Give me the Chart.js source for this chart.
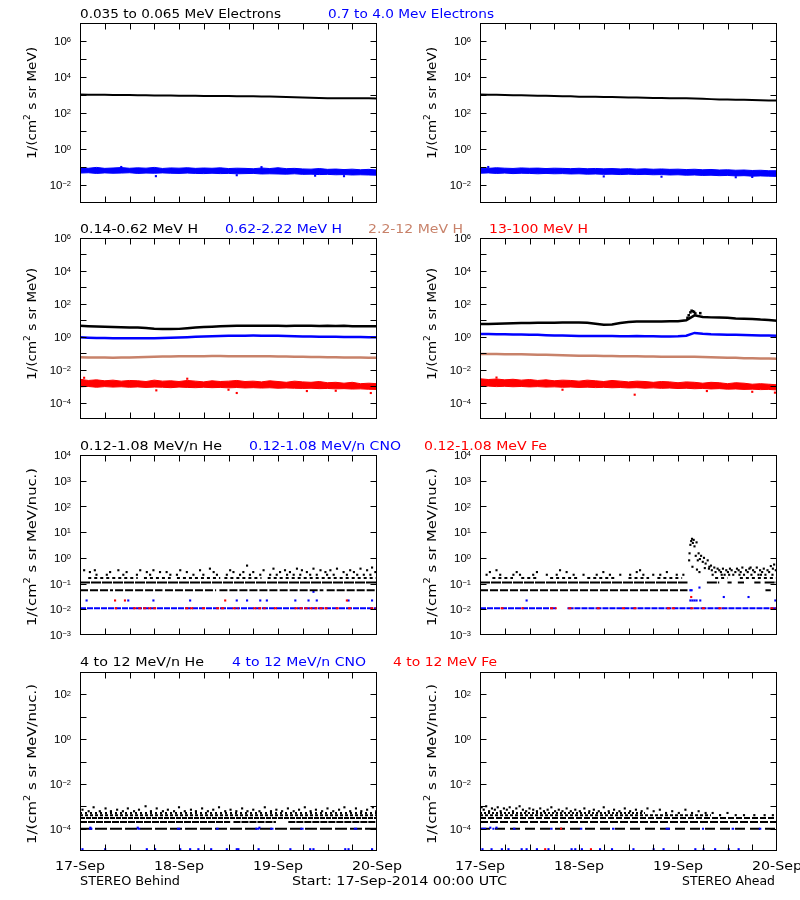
<!DOCTYPE html>
<html><head><meta charset="utf-8">
<script src="https://cdn.jsdelivr.net/npm/chart.js@4.4.0/dist/chart.umd.min.js"></script>
<style>
html,body{margin:0;padding:0;background:#fff;}
#wrap{position:relative;width:800px;height:900px;overflow:hidden;background:#fff;}
#wrap canvas{position:absolute;}
</style></head>
<body><div id="wrap"></div>
<script>
// ---------------- DATA ----------------
const hours2 = [0,2,4,6,8,10,12,14,16,18,20,22,24,26,28,30,32,34,36,38,40,42,44,46,48,50,52,54,56,58,60,62,64,66,68,70,72];
const xTickHours = [0,24,48,72];
const xTickLabels = ['17-Sep','18-Sep','19-Sep','20-Sep'];
const yLabelsRow1 = [-2,0,2,4,6];
const yLabelsRow2 = [-4,-2,0,2,4,6];
const yLabelsRow3 = [-3,-2,-1,0,1,2,3,4];
const yLabelsRow4 = [-4,-2,0,2];

// Row 1: electrons
const eLowB = [1050,1040,1030,1020,1010,1000,990,980,960,950,940,930,910,905,900,890,885,880,870,860,850,840,830,815,800,780,760,730,700,680,660,650,650,655,650,650,645];
const eLowA = [1050,1040,1020,1000,980,960,940,920,900,880,860,840,810,800,790,780,770,750,730,715,700,690,680,670,660,650,630,610,590,570,560,550,540,520,510,500,500];
const eHighB_hi = [0.09,0.085,0.095,0.084,0.088,0.093,0.085,0.09,0.086,0.095,0.083,0.089,0.086,0.091,0.084,0.088,0.085,0.09,0.082,0.086,0.084,0.08,0.088,0.082,0.091,0.081,0.084,0.078,0.076,0.082,0.074,0.077,0.072,0.076,0.07,0.074,0.068];
const eHighB_lo = [0.046,0.048,0.044,0.047,0.045,0.046,0.048,0.044,0.046,0.045,0.047,0.045,0.044,0.046,0.044,0.043,0.045,0.043,0.044,0.042,0.043,0.044,0.041,0.042,0.041,0.04,0.042,0.039,0.04,0.038,0.039,0.037,0.038,0.036,0.037,0.036,0.035];
const eHighB_out = [[18.4,0.031],[38,0.035],[57,0.033],[64,0.031],[10,0.1],[44,0.098]];
const eHighA_hi = [0.088,0.084,0.091,0.086,0.083,0.089,0.085,0.087,0.082,0.086,0.084,0.081,0.085,0.08,0.083,0.079,0.082,0.078,0.081,0.076,0.079,0.075,0.078,0.074,0.076,0.072,0.075,0.07,0.073,0.068,0.07,0.066,0.068,0.064,0.066,0.062,0.062];
const eHighA_lo = [0.045,0.047,0.044,0.046,0.043,0.045,0.044,0.042,0.044,0.042,0.043,0.041,0.042,0.04,0.041,0.039,0.04,0.038,0.04,0.038,0.039,0.037,0.038,0.036,0.037,0.035,0.036,0.034,0.035,0.033,0.034,0.032,0.033,0.031,0.032,0.031,0.03];
const eHighA_out = [[30,0.03],[44,0.029],[62,0.027],[66,0.028],[2,0.1]];

// Row 2: protons
const h1B = [4.6,4.4,4.2,4.0,3.9,3.8,3.7,3.6,3.4,3.1,2.9,2.9,3.0,3.3,3.6,3.9,4.1,4.3,4.5,4.6,4.7,4.6,4.7,4.6,4.6,4.5,4.6,4.7,4.6,4.5,4.6,4.5,4.6,4.4,4.4,4.3,4.3];
const h2B = [0.92,0.88,0.85,0.83,0.82,0.81,0.8,0.8,0.81,0.82,0.84,0.87,0.9,0.94,0.98,1.02,1.06,1.1,1.13,1.15,1.16,1.17,1.16,1.15,1.13,1.1,1.07,1.05,1.03,1.01,1.0,0.98,0.97,0.96,0.95,0.94,0.94];
const h3B = [0.056,0.055,0.054,0.054,0.053,0.054,0.055,0.056,0.058,0.06,0.062,0.063,0.064,0.065,0.066,0.066,0.067,0.067,0.066,0.066,0.066,0.065,0.065,0.064,0.063,0.062,0.061,0.06,0.059,0.058,0.057,0.056,0.055,0.055,0.054,0.053,0.053];
const h4B_hi = [0.0026,0.0022,0.0024,0.0021,0.0023,0.002,0.0022,0.0021,0.0019,0.0023,0.002,0.0021,0.0019,0.0022,0.002,0.0018,0.0021,0.0019,0.002,0.0022,0.0019,0.002,0.0018,0.0021,0.0019,0.0017,0.002,0.0018,0.0017,0.0019,0.0016,0.0017,0.0015,0.0017,0.0014,0.0015,0.0014];
const h4B_lo = [0.0009,0.00095,0.00085,0.00093,0.00087,0.00091,0.00085,0.00089,0.00083,0.00087,0.00085,0.0008,0.00087,0.00083,0.0008,0.00085,0.0008,0.00083,0.00078,0.00082,0.00077,0.0008,0.00076,0.00079,0.00074,0.00077,0.00074,0.00072,0.00074,0.0007,0.00072,0.00068,0.0007,0.00066,0.00068,0.00064,0.00062];
const h4B_out = [[18.5,0.00055],[36,0.0006],[38,0.00038],[55,0.0005],[62,0.00052],[70.5,0.00038],[1,0.0032],[26,0.0028]];
const h1A = [5.9,6.0,6.2,6.4,6.6,6.8,6.9,7.0,7.1,7.1,7.2,7.3,7.4,7.0,6.2,5.3,5.6,6.8,7.8,8.3,8.4,8.5,8.4,8.6,8.8,10,20,16,15,14.5,14,13,12.5,12,11,10.5,9.4];
const h1A_peak = [[50.3,14],[50.6,20],[51.0,30],[51.3,38],[51.6,35],[51.9,32],[52.2,26],[53.4,27]];
const h2A = [1.45,1.45,1.42,1.4,1.38,1.36,1.34,1.3,1.25,1.2,1.17,1.14,1.12,1.1,1.1,1.1,1.1,1.08,1.08,1.1,1.08,1.06,1.05,1.05,1.08,1.15,1.7,1.5,1.4,1.35,1.32,1.3,1.28,1.25,1.2,1.18,1.15];
const h3A = [0.09,0.089,0.088,0.087,0.086,0.085,0.083,0.081,0.079,0.077,0.075,0.073,0.071,0.07,0.069,0.068,0.067,0.066,0.065,0.064,0.063,0.062,0.061,0.06,0.06,0.06,0.061,0.059,0.057,0.055,0.053,0.052,0.05,0.049,0.048,0.047,0.046];
const h4A_hi = [0.0028,0.0025,0.0027,0.0024,0.0026,0.0023,0.0025,0.0022,0.0024,0.0021,0.0023,0.0022,0.002,0.0023,0.0021,0.0019,0.0022,0.002,0.0018,0.002,0.0019,0.0017,0.0019,0.0018,0.0016,0.0018,0.0017,0.0015,0.0017,0.0016,0.0014,0.0016,0.0015,0.0013,0.0014,0.0013,0.0012];
const h4A_lo = [0.00095,0.001,0.00093,0.00097,0.00091,0.00095,0.00089,0.00093,0.00087,0.0009,0.00085,0.00088,0.00083,0.00086,0.00081,0.00084,0.00079,0.00082,0.00077,0.0008,0.00075,0.00078,0.00073,0.00076,0.00071,0.00074,0.00069,0.00072,0.00067,0.0007,0.00065,0.00067,0.00063,0.00065,0.00061,0.00063,0.00058];
const h4A_out = [[20,0.0006],[37.5,0.0003],[55,0.0005],[66,0.00045],[71.5,0.0004],[4,0.0033]];

// Row 3: 0.12-1.08 MeV/n (count levels: [start,end] hour segments)
const heB_lvl1 = [[0,8],[8.5,20],[20.6,33],[33.8,48],[48.4,59],[59.8,72]];     // 0.055
const heB_lvl2 = [[0,72]];                                                       // 0.11
const heB_lvl3 = [[2,14],[15.5,22],[23.5,34],[35,44],[45.5,72]];                // 0.165
const heB_dots = [[1,0.33],[2.4,0.28],[3.6,0.33],[7.3,0.28],[9.3,0.33],[11.3,0.28],[14.6,0.33],[16.2,0.28],[17.8,0.33],[19.4,0.28],[21.0,0.28],[24.3,0.33],[25.9,0.28],[29.1,0.33],[31.5,0.38],[32.4,0.28],[36.4,0.33],[37.2,0.28],[39.6,0.28],[40.5,0.5],[42.0,0.28],[44.5,0.33],[46.9,0.38],[48.5,0.28],[49.7,0.33],[50.9,0.28],[52.6,0.38],[53.8,0.33],[55.0,0.28],[56.6,0.38],[58.3,0.33],[59.5,0.28],[60.7,0.33],[62.3,0.38],[63.9,0.28],[65.5,0.33],[66.4,0.28],[68.0,0.38],[69.6,0.33],[70.8,0.42],[71.6,0.28],
  [4.0,0.22],[6.5,0.22],[10.5,0.22],[13.8,0.22],[17.0,0.22],[21.9,0.22],[23.5,0.22],[27.5,0.22],[29.9,0.22],[33.2,0.22],[35.6,0.22],[38.8,0.22],[41.2,0.22],[43.7,0.22],[46.1,0.22],[47.7,0.22],[50.2,0.22],[51.8,0.22],[53.4,0.22],[55.8,0.22],[57.4,0.22],[59.9,0.22],[61.5,0.22],[64.7,0.22],[67.2,0.22],[68.8,0.22],[70.4,0.22]];
const cnoB_lvl = [[0,72]];                                                       // 0.011
const feB_lvl = [[8.4,9.0],[12.9,18.6],[25.5,27.5],[29.6,30.5],[33,35],[37,38.5],[42,45],[47,48],[52,60.5],[62,63],[65,65.8],[70.4,72]];
const cnoB_dots = [[1.6,0.022],[11.7,0.022],[17.8,0.022],[26.7,0.022],[38,0.022],[40.5,0.022],[43.7,0.022],[45.3,0.022],[52.2,0.022],[55.4,0.022],[57.4,0.022],[65.1,0.022],[70.8,0.022],[56.6,0.048]];
const feB_dots = [[8.5,0.022],[10.9,0.022],[35.2,0.022],[64.7,0.022]];

const heA_lvl1 = [[0,50.3],[69.2,70.5]];
const heA_lvl2 = [[0,50.3],[55,58],[60,61],[62.5,64],[66.5,68],[69,72]];
const heA_lvl3 = [[3,8],[10,14],[17,24],[26,33],[36,41],[43,49],[57,60],[63,72]];
const heA_dotsPre = [[1.6,0.22],[2.4,0.28],[4.9,0.22],[8.1,0.22],[8.9,0.28],[9.7,0.22],[12.9,0.22],[13.8,0.28],[16.2,0.22],[18.6,0.22],[21.0,0.28],[22.7,0.22],[25.1,0.22],[28.3,0.22],[29.9,0.28],[31.5,0.22],[34.0,0.22],[36.4,0.22],[38.0,0.28],[39.6,0.22],[42.0,0.22],[43.7,0.22],[45.3,0.28],[47.7,0.22],[49.3,0.22],[4.0,0.33],[19.4,0.33],[38.8,0.33]];
const heA_dotsEvent = [[50.7,0.8],[50.8,1.5],[51.0,3.2],[51.2,4.5],[51.4,5.5],[51.5,0.45],[51.6,3.8],[51.8,5.0],[52.0,2.8],[52.3,1.2],[52.5,4.0],[52.6,0.35],[52.8,0.8],[53.0,1.5],[53.2,0.28],[53.3,0.9],[53.6,1.2],[54.0,0.7],[54.3,1.0],[54.5,0.4],[54.7,0.6],[55.2,0.8],[55.6,0.45],[56.0,0.5]];
const heA_dotsPost = [[55.5,0.38],[56.2,0.33],[56.4,0.22],[56.8,0.42],[57.1,0.28],[57.6,0.38],[58.0,0.33],[58.4,0.28],[58.6,0.22],[58.9,0.38],[59.3,0.22],[59.7,0.33],[60.1,0.28],[60.4,0.22],[60.6,0.38],[61.0,0.33],[61.4,0.22],[61.9,0.28],[62.3,0.38],[62.7,0.33],[62.9,0.22],[63.2,0.28],[63.6,0.42],[64.0,0.22],[64.5,0.33],[64.9,0.28],[65.3,0.38],[65.6,0.42],[65.8,0.22],[66.2,0.33],[66.6,0.28],[67.1,0.42],[67.5,0.22],[67.9,0.33],[68.1,0.22],[68.4,0.28],[68.8,0.38],[69.2,0.22],[69.7,0.33],[70.1,0.28],[70.5,0.48],[70.9,0.22],[71.0,0.38],[71.3,0.55],[71.7,0.33]];
const cnoA_lvl = [[0,18.6],[21.2,72]];
const feA_lvl = [[5,5.7],[10,10.6],[17,18.6],[21.4,22.7],[28.3,29.1],[34.4,35.6],[37.2,38.2],[45.3,47.7],[51,51.8],[53.8,54.6],[57.8,59.1],[70.4,72]];
const cnoA_dots = [[11.3,0.022],[51.0,0.022],[51.5,0.022],[52.0,0.022],[52.5,0.022],[53.4,0.022],[59.1,0.03],[65.1,0.03],[71.6,0.022],[51.0,0.055],[51.3,0.055],[53.2,0.07]];
const feA_dots = [[51.2,0.03]];

// Row 4: 4-12 MeV/n
const he4B_l1 = [[0,72]];                              // 1e-4
const he4B_l2 = [[0,36.4],[37.2,47.5],[50.5,72]];      // 2e-4
const he4B_l3 = [[0,72]];                              // 3e-4
const he4B_l4 = [[0,72]];                              // 4e-4
const he4B_l5 = [[0,72]];                              // 5e-4
const he4B_dots = [[0.6,7e-4],[2.1,6e-4],[3.3,9e-4],[4.8,6e-4],[6.2,8e-4],[7.5,6e-4],[9.0,7e-4],[10.4,6e-4],[11.6,8e-4],[13.1,6e-4],[14.3,7e-4],[15.9,1e-3],[17.2,6e-4],[18.6,8e-4],[20.1,6e-4],[21.3,7e-4],[22.8,6e-4],[24.0,9e-4],[25.4,6e-4],[26.9,7e-4],[28.1,6e-4],[29.6,8e-4],[31.0,6e-4],[32.3,7e-4],[33.7,9e-4],[35.2,6e-4],[36.5,7e-4],[37.9,6e-4],[39.3,8e-4],[40.6,6e-4],[42.0,7e-4],[43.5,6e-4],[44.8,9e-4],[46.3,6e-4],[47.6,7e-4],[49.0,6e-4],[50.4,8e-4],[51.8,6e-4],[53.1,7e-4],[54.5,9e-4],[55.9,6e-4],[57.2,7e-4],[58.7,6e-4],[60.0,8e-4],[61.4,6e-4],[62.8,7e-4],[64.1,9e-4],[65.5,6e-4],[66.9,8e-4],[68.2,6e-4],[69.6,7e-4],[71.0,9e-4],[71.8,6e-4]];
const cno4B_lvl = [[2.2,3.0],[13.9,14.6],[23.5,24.3],[33,33.6],[42.5,43.5],[46.1,46.9],[53.4,54.2],[66.4,67.2]];
const cno4B_dots = [[0.6,1.2e-5],[6.1,1.2e-5],[16.2,1.2e-5],[18.2,1.2e-5],[24.3,1.2e-5],[26.7,1.2e-5],[28.7,1.2e-5],[31.8,1.2e-5],[35.6,1.2e-5],[38.0,1.2e-5],[38.4,1.2e-5],[43.3,1.2e-5],[51.0,1.2e-5],[55.8,1.2e-5],[56.6,1.2e-5],[64.3,1.2e-5],[65.1,1.2e-5],[70.8,1.2e-5],[14.0,1.1e-4],[43.5,1.1e-4],[2.5,1.1e-4]];

const he4A_l1 = [[0,72]];
const he4A_l2 = [[0,72]];
const he4A_l3 = [[0,72]];
const he4A_l4 = [[0,56]];
const he4A_l5 = [[0,40]];
const he4A_dots = [[0.4,9e-4],[0.9,7e-4],[1.5,1e-3],[2.2,6e-4],[2.9,8e-4],[3.6,7e-4],[4.3,9e-4],[5.0,6e-4],[5.8,8e-4],[6.5,7e-4],[7.2,9e-4],[8.0,6e-4],[8.8,8e-4],[9.6,1e-3],[10.4,7e-4],[11.2,6e-4],[12.0,8e-4],[12.9,7e-4],[13.8,6e-4],[14.6,8e-4],[15.5,6e-4],[16.4,7e-4],[17.3,9e-4],[18.2,6e-4],[19.1,7e-4],[20.0,6e-4],[21.0,8e-4],[22.0,6e-4],[23.1,7e-4],[24.2,6e-4],[25.3,8e-4],[26.5,6e-4],[27.6,7e-4],[28.8,6e-4],[30.0,9e-4],[31.2,6e-4],[32.5,7e-4],[33.8,6e-4],[35.1,8e-4],[36.4,6e-4],[37.8,7e-4],[39.2,6e-4],[40.6,8e-4],[42.1,6e-4],[43.6,7e-4],[45.1,5e-4],[46.6,6e-4],[48.2,5e-4],[49.8,7e-4],[51.4,5e-4],[53.0,6e-4],[54.7,5e-4],[56.4,5e-4],[58.2,4e-4],[60.0,5e-4],[62.0,4e-4],[64.0,4e-4],[66.5,4e-4],[69.0,4e-4],[71.0,4e-4]];
const cno4A_lvl = [[0.3,1.5],[3,3.5],[8,8.6],[17,17.6],[24.2,24.8],[32,32.6],[45,46],[53.8,54.3],[61,61.6],[67.6,68.2]];
const fe4A_lvl = [[19.4,19.9]];
const cno4A_dots = [[0.6,1.2e-5],[2.8,1.2e-5],[5.3,1.2e-5],[6.9,1.2e-5],[10.1,1.2e-5],[11.3,1.2e-5],[13.8,1.2e-5],[16.6,1.2e-5],[22.2,1.2e-5],[23.1,1.2e-5],[24.7,1.2e-5],[29.1,1.2e-5],[32.0,1.2e-5],[37.2,1.2e-5],[42.1,1.2e-5],[44.5,1.2e-5],[52.2,1.2e-5],[54.2,1.2e-5],[57.0,1.2e-5],[60.3,1.2e-5],[62.7,1.2e-5],[2.5,1.1e-4],[4.0,1.1e-4]];
const fe4A_dots = [[15.8,1.2e-5],[26.9,1.2e-5]];

// ---------------- STYLE / LAYOUT ----------------
const BLK='#000000', BLU='#0000ff', RED='#ff0000', SIE='#c8826a';
const FONT='"DejaVu Sans", sans-serif';
const TICKFONT='"Liberation Sans", Arial, sans-serif';

function lineDs(ys, color, w){ return {data: hours2.map((x,i)=>({x, y:ys[i]})), borderColor:color, borderWidth:w, pointRadius:0, fill:false}; }
function bandDs(lo, hi, color){ return [
  {data: hours2.map((x,i)=>({x, y:lo[i]})), borderColor:color, borderWidth:1, pointRadius:0, fill:false},
  {data: hours2.map((x,i)=>({x, y:hi[i]})), borderColor:color, borderWidth:1, pointRadius:0, fill:'-1', backgroundColor:color}
]; }
function dotsDs(pts, color, r){ return {data: pts.map(p=>({x:p[0], y:p[1]})), showLine:false, pointRadius:r||1.5, pointStyle:'rect', pointBackgroundColor:color, pointBorderWidth:0, borderColor:color, backgroundColor:color}; }
function levelDs(segs, v, color, dash, w){ const d=[]; segs.forEach(s=>{ d.push({x:s[0],y:v},{x:s[1],y:v},{x:s[1],y:null}); });
  return {data:d, borderColor:color, borderWidth:w||2, borderDash:dash||[], pointRadius:0, fill:false, spanGaps:false}; }

const rows = [
  {top:23, bottom:203, lo:-3, hi:7, labels:yLabelsRow1, ycen:103, ylen:112, nuc:false},
  {top:238, bottom:419, lo:-5, hi:6, labels:yLabelsRow2, ycen:324, ylen:112, nuc:false},
  {top:455, bottom:635, lo:-3, hi:4, labels:yLabelsRow3, ycen:547, ylen:158, nuc:true},
  {top:672, bottom:851, lo:-5, hi:3, labels:yLabelsRow4, ycen:764, ylen:160, nuc:true, xlab:true}
];

const panels = [
  {row:0, side:0, ds:[lineDs(eLowB,BLK,2), dotsDs(eHighB_out,BLU), ...bandDs(eHighB_lo,eHighB_hi,BLU)]},
  {row:0, side:1, ds:[lineDs(eLowA,BLK,2), dotsDs(eHighA_out,BLU), ...bandDs(eHighA_lo,eHighA_hi,BLU)]},
  {row:1, side:0, ds:[lineDs(h1B,BLK,2.5), lineDs(h2B,BLU,2.5), lineDs(h3B,SIE,2.5), dotsDs(h4B_out,RED), ...bandDs(h4B_lo,h4B_hi,RED)]},
  {row:1, side:1, ds:[dotsDs(h1A_peak,BLK,1.8), lineDs(h1A,BLK,2.5), lineDs(h2A,BLU,2.5), lineDs(h3A,SIE,2.5), dotsDs(h4A_out,RED), ...bandDs(h4A_lo,h4A_hi,RED)]},
  {row:2, side:0, ds:[dotsDs(heB_dots,BLK), levelDs(heB_lvl3,0.165,BLK,[3,3]), levelDs(heB_lvl2,0.11,BLK,[10,1]), levelDs(heB_lvl1,0.055,BLK,[8,2]),
      dotsDs(feB_dots,RED), dotsDs(cnoB_dots,BLU), levelDs(feB_lvl,0.011,RED,[3,2]), levelDs(cnoB_lvl,0.011,BLU,[6,1])]},
  {row:2, side:1, ds:[dotsDs(heA_dotsEvent,BLK), dotsDs(heA_dotsPost,BLK), dotsDs(heA_dotsPre,BLK), levelDs(heA_lvl3,0.165,BLK,[3,3]), levelDs(heA_lvl2,0.11,BLK,[10,1]), levelDs(heA_lvl1,0.055,BLK,[8,2]),
      dotsDs(feA_dots,RED), dotsDs(cnoA_dots,BLU), levelDs(feA_lvl,0.011,RED,[3,2]), levelDs(cnoA_lvl,0.011,BLU,[6,1])]},
  {row:3, side:0, ds:[levelDs(cno4B_lvl,1e-4,BLU), dotsDs(cno4B_dots,BLU), dotsDs(he4B_dots,BLK), levelDs(he4B_l5,5e-4,BLK,[2,3]), levelDs(he4B_l4,4e-4,BLK,[3,2]),
      levelDs(he4B_l3,3e-4,BLK,[5,1]), levelDs(he4B_l2,2e-4,BLK,[7,1]), levelDs(he4B_l1,1e-4,BLK,[12,3])]},
  {row:3, side:1, ds:[levelDs(fe4A_lvl,1e-4,RED), levelDs(cno4A_lvl,1e-4,BLU), dotsDs(fe4A_dots,RED), dotsDs(cno4A_dots,BLU), dotsDs(he4A_dots,BLK), levelDs(he4A_l5,5e-4,BLK,[2,2]), levelDs(he4A_l4,4e-4,BLK,[3,2]),
      levelDs(he4A_l3,3e-4,BLK,[6,2]), levelDs(he4A_l2,2e-4,BLK,[8,2]), levelDs(he4A_l1,1e-4,BLK,[10,5])]}
];

const titleTexts = [
  ['0.035 to 0.065 MeV Electrons', 80, 18, 201, BLK],
  ['0.7 to 4.0 Mev Electrons', 328, 18, 166, BLU],
  ['0.14-0.62 MeV H', 80, 233, 118, BLK],
  ['0.62-2.22 MeV H', 225, 233, 117, BLU],
  ['2.2-12 MeV H', 368, 233, 95, SIE],
  ['13-100 MeV H', 489, 233, 99, RED],
  ['0.12-1.08 MeV/n He', 80, 450, 142, BLK],
  ['0.12-1.08 MeV/n CNO', 249, 450, 152, BLU],
  ['0.12-1.08 MeV Fe', 424, 450, 123, RED],
  ['4 to 12 MeV/n He', 80, 666, 124, BLK],
  ['4 to 12 MeV/n CNO', 232, 666, 134, BLU],
  ['4 to 12 MeV Fe', 393, 666, 104, RED],
  ['STEREO Behind', 80, 885, 100, BLK],
  ['Start: 17-Sep-2014 00:00 UTC', 292, 885, 215, BLK],
  ['STEREO Ahead', 682, 885, 93, BLK]
];

// ---------------- DRAW HELPERS ----------------
function fitText(ctx, str, x, y, w, font, color, align){
  ctx.save(); ctx.font=font; const m=ctx.measureText(str).width; const s=w/m;
  ctx.translate(x,y); ctx.scale(s,1); ctx.fillStyle=color; ctx.textBaseline='alphabetic';
  ctx.textAlign='left'; ctx.fillText(str, align==='center' ? -m/2 : 0, 0); ctx.restore();
}
function drawPow(ctx, e, xr, yc){
  ctx.save(); ctx.fillStyle='#000'; ctx.textBaseline='alphabetic'; ctx.textAlign='left';
  ctx.font='11.5px '+TICKFONT; const w10=ctx.measureText('10').width;
  const es = e<0 ? '\u2212'+(-e) : String(e);
  ctx.font='7.5px '+TICKFONT; const we=ctx.measureText(es).width;
  ctx.fillText(es, xr-we, yc+1.3);
  ctx.font='11.5px '+TICKFONT; ctx.fillText('10', xr-we-w10, yc+4.1);
  ctx.restore();
}
function drawYTitle(ctx, cx, cy, len, nuc){
  const p1='1/(cm', sup='2', p2 = nuc ? ' s sr MeV/nuc.)' : ' s sr MeV)';
  ctx.save(); ctx.translate(cx,cy); ctx.rotate(-Math.PI/2);
  ctx.font='12px '+FONT; const w1=ctx.measureText(p1).width, w3=ctx.measureText(p2).width;
  ctx.font='8px '+FONT; const w2=ctx.measureText(sup).width;
  const tot=w1+w2+w3; ctx.scale(len/tot,1);
  ctx.fillStyle='#000'; ctx.textBaseline='middle'; ctx.textAlign='left';
  let x=-tot/2;
  ctx.font='12px '+FONT; ctx.fillText(p1,x,0); x+=w1;
  ctx.font='8px '+FONT; ctx.fillText(sup,x,-5); x+=w2;
  ctx.font='12px '+FONT; ctx.fillText(p2,x,0);
  ctx.restore();
}
function makeFrame(row, canvasTop){
  return { id:'frame', afterDraw(chart){
    const ctx=chart.ctx, a=chart.chartArea, xs=chart.scales.x, ys=chart.scales.y;
    const L=Math.round(a.left)+0.5, R=Math.round(a.right)-0.5, T=Math.round(a.top)+0.5, B=Math.round(a.bottom)-0.5;
    ctx.save(); ctx.strokeStyle='#000'; ctx.lineWidth=1; ctx.setLineDash([]);
    ctx.strokeRect(L,T,R-L,B-T);
    ctx.beginPath();
    for(let e=row.lo+1;e<row.hi;e++){ const yy=Math.round(ys.getPixelForValue(Math.pow(10,e)))+0.5;
      ctx.moveTo(L,yy); ctx.lineTo(L+6,yy); ctx.moveTo(R,yy); ctx.lineTo(R-6,yy); }
    for(let h=6;h<72;h+=6){ const xx=Math.round(xs.getPixelForValue(h))+0.5;
      ctx.moveTo(xx,B); ctx.lineTo(xx,B-6); ctx.moveTo(xx,T); ctx.lineTo(xx,T+6); }
    ctx.stroke(); ctx.restore();
    row.labels.forEach(e=>drawPow(ctx, e, a.left-9, ys.getPixelForValue(Math.pow(10,e))));
    drawYTitle(ctx, a.left-47, row.ycen-canvasTop, row.ylen, row.nuc);
    if(row.xlab){ xTickHours.forEach((h,i)=>fitText(ctx, xTickLabels[i], xs.getPixelForValue(h), a.bottom+19, 50, '12px '+FONT, '#000', 'center')); }
  }};
}

// ---------------- BUILD ----------------
const wrap=document.getElementById('wrap');
panels.forEach(p=>{
  const row=rows[p.row];
  const W=p.side===0?404:400, pageX=p.side===0?0:400;
  const padT=8, padB=row.xlab?40:8;
  const H=(row.bottom-row.top)+padT+padB;
  const cv=document.createElement('canvas');
  cv.width=W; cv.height=H; cv.style.width=W+'px'; cv.style.height=H+'px';
  cv.style.left=pageX+'px'; cv.style.top=(row.top-padT)+'px';
  wrap.appendChild(cv);
  new Chart(cv.getContext('2d'), {
    type:'line',
    data:{datasets:p.ds},
    options:{
      responsive:false, animation:false, devicePixelRatio:1, events:[],
      layout:{padding:{left:80, right:W-377, top:padT, bottom:padB}},
      scales:{ x:{type:'linear', min:0, max:72, display:false},
               y:{type:'logarithmic', min:Math.pow(10,row.lo), max:Math.pow(10,row.hi), display:false}},
      plugins:{legend:{display:false}, tooltip:{enabled:false}},
      elements:{line:{tension:0}, point:{hoverRadius:0}}
    },
    plugins:[makeFrame(row, row.top-padT)]
  });
});
const ov=document.createElement('canvas'); ov.width=800; ov.height=900; ov.style.left='0px'; ov.style.top='0px'; ov.style.pointerEvents='none';
wrap.appendChild(ov);
const octx=ov.getContext('2d');
titleTexts.forEach(t=>fitText(octx, t[0], t[1], t[2], t[3], '12px '+FONT, t[4]));
</script>
</body></html>
